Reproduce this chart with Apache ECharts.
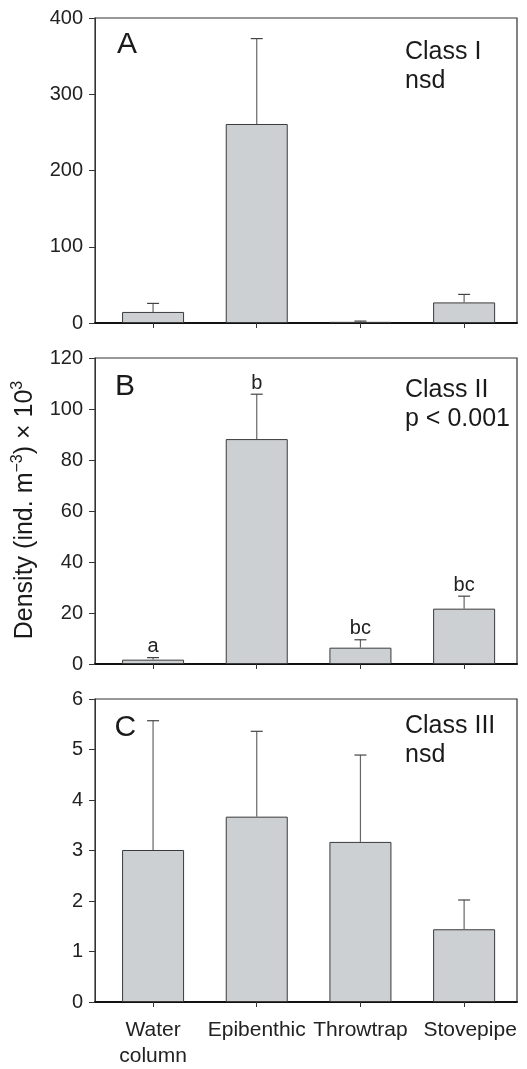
<!DOCTYPE html>
<html><head><meta charset="utf-8">
<script src="https://cdn.jsdelivr.net/npm/echarts@6/dist/echarts.min.js"></script>
<style>html,body{margin:0;padding:0;background:#fff}#c{width:527px;height:1069px}</style>
</head><body><div id="c"></div>
<script>
// ---- data ----
const categories = ['Water\ncolumn', 'Epibenthic', 'Throwtrap', 'Stovepipe'];
const positions = [1, 2, 3, 4];
const classI_mean  = [14.5, 261, 1.5, 27];
const classI_upper = [25.7, 373, 2.5, 37.5];
const classII_mean  = [1.7, 88.2, 6.4, 21.7];
const classII_upper = [2.5, 105.8, 9.5, 26.6];
const classII_letters = ['a', 'b', 'bc', 'bc'];
const classIII_mean  = [3.01, 3.67, 3.17, 1.44];
const classIII_upper = [5.57, 5.36, 4.89, 2.02];
const yTicksA = [0, 100, 200, 300, 400];
const yTicksB = [0, 20, 40, 60, 80, 100, 120];
const yTicksC = [0, 1, 2, 3, 4, 5, 6];

// ---- style ----
const FONT = '"Liberation Sans", Arial, Helvetica, sans-serif';
const grids = [
  {left: 95, right: 10, top: 18, height: 305},
  {left: 95, right: 10, top: 358, height: 306},
  {left: 95, right: 10, top: 699, height: 306}
];

const chart = echarts.init(document.getElementById('c'), null, {renderer: 'canvas'});

function xAxis(i, showLabels) {
  return {
    type: 'value', gridIndex: i, min: 0.44, max: 4.51,
    splitLine: {show: false},
    axisLine: {show: true, onZero: false, lineStyle: {color: '#111', width: 2}},
    axisTick: {show: true, length: 5, customValues: positions, lineStyle: {color: '#333', width: 1}},
    axisLabel: {
      show: showLabels, customValues: positions, margin: 15, hideOverlap: false,
      showMinLabel: true, showMaxLabel: true,
      fontSize: 21, fontFamily: FONT, color: '#222', lineHeight: 26,
      formatter: function (v) {
        const idx = positions.indexOf(v);
        if (idx < 0) return '';
        const name = categories[idx];
        if (idx === 3) return '{s|' + name + '}';
        return name;
      },
      rich: {
        s: {fontSize: 21, fontFamily: FONT, color: '#222', padding: [0, 0, 0, 12]}
      }
    }
  };
}
function yAxis(i, ticks) {
  return {
    type: 'value', gridIndex: i, min: ticks[0], max: ticks[ticks.length - 1],
    interval: ticks[1] - ticks[0],
    splitLine: {show: false},
    axisLine: {show: true, lineStyle: {color: '#333', width: 1}},
    axisTick: {show: true, length: 6, lineStyle: {color: '#333', width: 1}},
    axisLabel: {fontSize: 20, fontFamily: FONT, color: '#222', margin: 12}
  };
}
function barSeries(i, mean) {
  return {
    type: 'bar', xAxisIndex: i, yAxisIndex: i, barWidth: 62,
    data: positions.map((p, k) => [p, mean[k]]),
    itemStyle: {color: '#cdd0d2', borderColor: '#3a3a3a', borderWidth: 1},
    z: 2, silent: true
  };
}
function errSeries(i, mean, upper, letters) {
  return {
    type: 'custom', xAxisIndex: i, yAxisIndex: i, z: 3, silent: true,
    data: positions.map((p, k) => [p, mean[k], upper[k]]),
    encode: {x: 0, y: [1, 2]},
    renderItem: function (params, api) {
      const x = api.value(0), m = api.value(1), u = api.value(2);
      const p0 = api.coord([x, m]), p1 = api.coord([x, u]);
      const children = [
        {type: 'line', shape: {x1: p0[0], y1: p0[1], x2: p1[0], y2: p1[1]}, style: {stroke: '#666', lineWidth: 1.2}},
        {type: 'line', shape: {x1: p1[0] - 6, y1: p1[1], x2: p1[0] + 6, y2: p1[1]}, style: {stroke: '#444', lineWidth: 1.2}}
      ];
      if (letters) {
        children.push({type: 'text', x: p1[0], y: p1[1] - 1,
          style: {text: letters[params.dataIndex], align: 'center', verticalAlign: 'bottom',
                  fontSize: 20, fontFamily: FONT, fill: '#222'}});
      }
      return {type: 'group', children: children};
    }
  };
}
function txt(x, y, s, size) {
  return {type: 'text', x: x, y: y, silent: true,
    style: {text: s, fontSize: size, fontFamily: FONT, fill: '#1a1a1a', align: 'left', verticalAlign: 'middle'}};
}

const option = {
  backgroundColor: '#fff',
  animation: false,
  grid: grids.map(g => Object.assign({show: true, borderColor: '#333', borderWidth: 1.2, backgroundColor: 'transparent'}, g)),
  xAxis: [xAxis(0, false), xAxis(1, false), xAxis(2, true)],
  yAxis: [yAxis(0, yTicksA), yAxis(1, yTicksB), yAxis(2, yTicksC)],
  series: [
    barSeries(0, classI_mean), errSeries(0, classI_mean, classI_upper, null),
    barSeries(1, classII_mean), errSeries(1, classII_mean, classII_upper, classII_letters),
    barSeries(2, classIII_mean), errSeries(2, classIII_mean, classIII_upper, null)
  ],
  graphic: [
    txt(117, 45, 'A', 30), txt(405, 52.5, 'Class I', 25), txt(405, 81, 'nsd', 25),
    txt(115, 387, 'B', 30), txt(405, 390, 'Class II', 25), txt(405, 419, 'p < 0.001', 25),
    txt(114.5, 727.5, 'C', 30), txt(405, 726, 'Class III', 25), txt(405, 755, 'nsd', 25),
    {type: 'text', x: 25, y: 510, rotation: Math.PI / 2, silent: true,
      style: {
        text: '{n|Density (ind. m}{s|\u22123}{n|) \u00d7 10}{s|3}',
        align: 'center', verticalAlign: 'middle',
        rich: {
          n: {fontSize: 25, fontFamily: FONT, fill: '#1a1a1a', lineHeight: 30},
          s: {fontSize: 16, fontFamily: FONT, fill: '#1a1a1a', lineHeight: 16, verticalAlign: 'top'}
        }
      }}
  ]
};
chart.setOption(option);
</script>
</body></html>
